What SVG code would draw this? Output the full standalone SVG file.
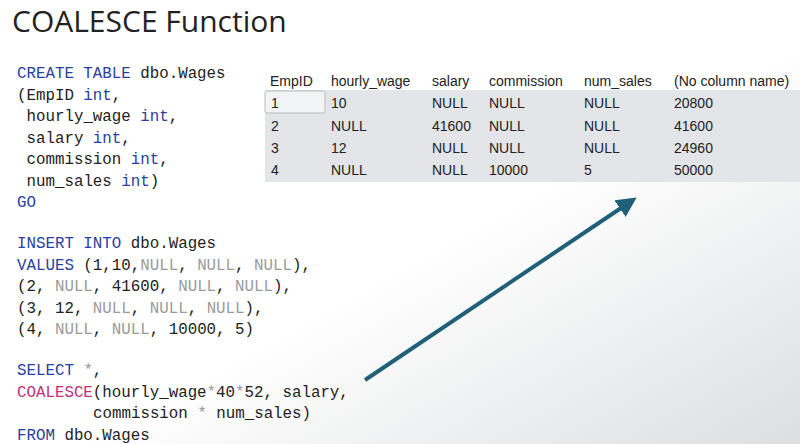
<svg xmlns="http://www.w3.org/2000/svg" width="800" height="444" viewBox="0 0 800 444">
<defs>
<linearGradient id="bg" x1="0" y1="0" x2="1" y2="1"><stop offset="0.55" stop-color="#ffffff"/><stop offset="1" stop-color="#dcdee0"/></linearGradient>
<marker id="ah" markerWidth="5" markerHeight="5" refX="3" refY="2.5" orient="auto"><path d="M0,0 L5,2.5 L0,5 z" fill="#1f5f78"/></marker>
<style>
.c{font-family:"Liberation Mono","DejaVu Sans Mono",monospace;font-size:15.8px;fill:#222}
.k{fill:#2a3fa0}.n{fill:#9a9a9a}.m{fill:#c0307a}
.t{font-family:"Liberation Sans",Arial,sans-serif;font-size:14px;fill:#222}
</style>
</defs>
<rect width="800" height="444" fill="url(#bg)"/>
<text x="12" y="32" font-family="Open Sans, sans-serif" font-size="30" fill="#222">COALESCE Function</text>
<g id="code">
<text class="c" x="17" y="78"><tspan class="k">CREATE TABLE</tspan> dbo.Wages</text>
<text class="c" x="17" y="99.5">(EmpID <tspan class="k">int</tspan>,</text>
<text class="c" x="26.5" y="121">hourly_wage <tspan class="k">int</tspan>,</text>
<text class="c" x="26.5" y="142.5">salary <tspan class="k">int</tspan>,</text>
<text class="c" x="26.5" y="164">commission <tspan class="k">int</tspan>,</text>
<text class="c" x="26.5" y="185.5">num_sales <tspan class="k">int</tspan>)</text>
<text class="c k" x="17" y="207">GO</text>
<text class="c" x="17" y="248"><tspan class="k">INSERT INTO</tspan> dbo.Wages</text>
<text class="c" x="17" y="269.5"><tspan class="k">VALUES</tspan> (1,10,<tspan class="n">NULL</tspan>, <tspan class="n">NULL</tspan>, <tspan class="n">NULL</tspan>),</text>
<text class="c" x="17" y="291">(2, <tspan class="n">NULL</tspan>, 41600, <tspan class="n">NULL</tspan>, <tspan class="n">NULL</tspan>),</text>
<text class="c" x="17" y="312.5">(3, 12, <tspan class="n">NULL</tspan>, <tspan class="n">NULL</tspan>, <tspan class="n">NULL</tspan>),</text>
<text class="c" x="17" y="334">(4, <tspan class="n">NULL</tspan>, <tspan class="n">NULL</tspan>, 10000, 5)</text>
<text class="c" x="17" y="375"><tspan class="k">SELECT</tspan> <tspan class="n">*</tspan>,</text>
<text class="c" x="17" y="396.5"><tspan class="m">COALESCE</tspan>(hourly_wage<tspan class="n">*</tspan>40<tspan class="n">*</tspan>52, salary,</text>
<text class="c" x="93" y="418">commission <tspan class="n">*</tspan> num_sales)</text>
<text class="c" x="17" y="439.5"><tspan class="k">FROM</tspan> dbo.Wages</text>
</g>
<g id="table">
<rect x="265" y="90" width="535" height="92" fill="#e3e5e8"/>
<rect x="265" y="91" width="60" height="22" rx="2" fill="#f2f3f4" stroke="#b8bcc0"/>
<g class="t">
<text x="270" y="86">EmpID</text><text x="331" y="86">hourly_wage</text><text x="432" y="86">salary</text><text x="489" y="86">commission</text><text x="584" y="86">num_sales</text><text x="674" y="86">(No column name)</text>
<text x="271" y="108">1</text><text x="331" y="108">10</text><text x="432" y="108">NULL</text><text x="489" y="108">NULL</text><text x="584" y="108">NULL</text><text x="674" y="108">20800</text>
<text x="271" y="131">2</text><text x="331" y="131">NULL</text><text x="432" y="131">41600</text><text x="489" y="131">NULL</text><text x="584" y="131">NULL</text><text x="674" y="131">41600</text>
<text x="271" y="153">3</text><text x="331" y="153">12</text><text x="432" y="153">NULL</text><text x="489" y="153">NULL</text><text x="584" y="153">NULL</text><text x="674" y="153">24960</text>
<text x="271" y="175">4</text><text x="331" y="175">NULL</text><text x="432" y="175">NULL</text><text x="489" y="175">10000</text><text x="584" y="175">5</text><text x="674" y="175">50000</text>
</g>
</g>
<g id="connectors">
<line x1="365" y1="380" x2="630" y2="202" stroke="#1f5f78" stroke-width="4" marker-end="url(#ah)"/>
</g>
</svg>
